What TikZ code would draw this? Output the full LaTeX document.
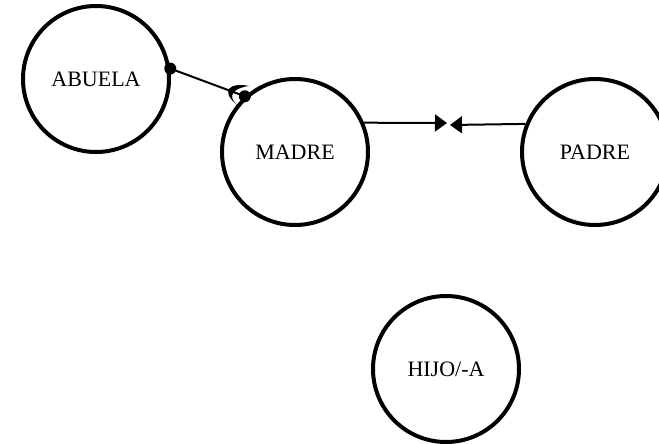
\documentclass[tikz,border=0pt]{standalone}
\usepackage{fontspec}
\setmainfont{Liberation Serif}
\usetikzlibrary{arrows.meta}
\begin{document}
\begin{tikzpicture}[x=1pt,y=-1pt,
  person/.style={circle,draw=black,line width=4pt,minimum size=146pt,inner sep=0pt,
    font=\fontsize{22}{24}\selectfont},
  link/.style={line width=2pt},
  dotmark/.style={fill=black},
  tri/.style={-{Triangle[length=12pt,width=17pt]}}]
\useasboundingbox (0,0) rectangle (659,444);
\node[person] (abuela) at (96,79) {ABUELA};
\node[person] (madre) at (295,152) {MADRE};
\node[person] (padre) at (595,152) {PADRE};
\node[person] (hijo) at (446,369) {HIJO/-A};
\coordinate (m1) at (447,123);
\coordinate (m2) at (450,125);
% abuela - madre connector
\draw[link] (abuela.8) -- (madre.132);
\fill[dotmark] (abuela.8) circle (6pt);
\fill[dotmark] (madre.132) circle (6pt);
\fill[black] (249,86) .. controls (231,82) and (219,90) .. (237,105)
  .. controls (227,96) and (233,88) .. (249,86) -- cycle;
% madre/padre arrows
\draw[link,tri] (madre.23) -- (m1);
\draw[link,tri] (padre.158) -- (m2);
\end{tikzpicture}
\end{document}
